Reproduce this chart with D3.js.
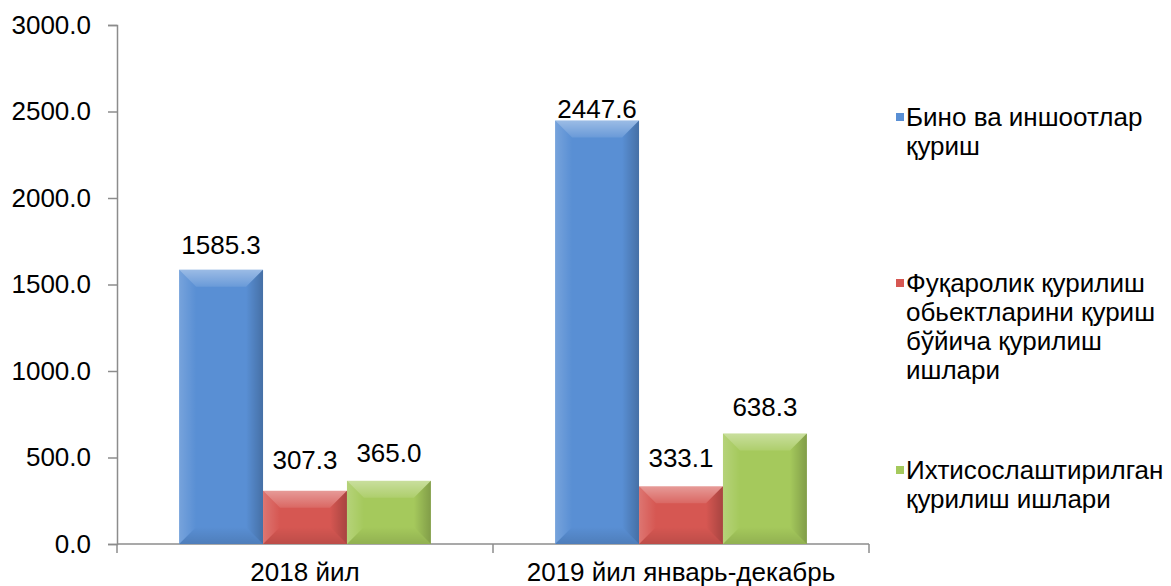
<!DOCTYPE html>
<html>
<head>
<meta charset="utf-8">
<script src="https://cdn.jsdelivr.net/npm/d3@7"></script>
<style>
  body { margin: 0; background: #fff; }
  svg { display: block; font-family: "Liberation Sans", Arial, sans-serif; }
</style>
</head>
<body>
<div id="wrapper"></div>
<script>
const width = 1171
const height = 586

const categories = ["2018 йил", "2019 йил январь-декабрь"]
const series = ["bino", "fuqarolik", "ixtisos"]
const seriesLines = [
    ["Бино ва иншоотлар", "қуриш"],
    ["Фуқаролик қурилиш", "обьектларини қуриш", "бўйича қурилиш", "ишлари"],
    ["Ихтисослаштирилган", "қурилиш ишлари"]
]
const values2018 = [1585.3, 307.3, 365.0]
const values2019 = [2447.6, 333.1, 638.3]
const yTicks = [0, 500, 1000, 1500, 2000, 2500, 3000]

const rows = categories.map((c, i) => ({ cat: c, vals: [values2018, values2019][i] }))

const colors = ["#598fd4", "#d65752", "#a5c95c"]
// label lift above bar top (px), per category / series
const labelLift = [[16, 22, 19], [3, 19, 18]]

const x0 = d3.scaleBand(categories, [117, 869]).padding(0)
const x1 = d3.scaleBand(series, [0, x0.bandwidth()]).paddingInner(0).paddingOuter(0.74)
const y = d3.scaleLinear([0, 3000], [544, 25])

const svg = d3.select("#wrapper").append("svg")
    .attr("width", width)
    .attr("height", height)

const defs = svg.append("defs")
const gTop = defs.append("linearGradient").attr("id", "gTop").attr("x1", 0).attr("y1", 0).attr("x2", 0).attr("y2", 1)
gTop.append("stop").attr("offset", 0).attr("stop-color", "#fff").attr("stop-opacity", 0.4)
gTop.append("stop").attr("offset", 1).attr("stop-color", "#fff").attr("stop-opacity", 0.1)
const gBot = defs.append("linearGradient").attr("id", "gBot").attr("x1", 0).attr("y1", 0).attr("x2", 0).attr("y2", 1)
gBot.append("stop").attr("offset", 0).attr("stop-color", "#000").attr("stop-opacity", 0.0)
gBot.append("stop").attr("offset", 1).attr("stop-color", "#000").attr("stop-opacity", 0.12)
const gLeft = defs.append("linearGradient").attr("id", "gLeft").attr("x1", 0).attr("y1", 0).attr("x2", 1).attr("y2", 0)
gLeft.append("stop").attr("offset", 0).attr("stop-color", "#fff").attr("stop-opacity", 0.18)
gLeft.append("stop").attr("offset", 1).attr("stop-color", "#fff").attr("stop-opacity", 0.0)
const gRight = defs.append("linearGradient").attr("id", "gRight").attr("x1", 0).attr("y1", 0).attr("x2", 1).attr("y2", 0)
gRight.append("stop").attr("offset", 0).attr("stop-color", "#000").attr("stop-opacity", 0.0)
gRight.append("stop").attr("offset", 1).attr("stop-color", "#000").attr("stop-opacity", 0.22)

// y axis
const yAxis = svg.append("g")
    .attr("transform", "translate(117,0)")
    .call(d3.axisLeft(y).tickValues(yTicks).tickFormat(d3.format(".1f")).tickSize(9).tickPadding(17))
yAxis.select(".domain").attr("stroke", "#8c8c8c").attr("stroke-width", 1.5)
yAxis.selectAll(".tick line").attr("stroke", "#8c8c8c").attr("stroke-width", 1.5)
yAxis.selectAll(".tick text").attr("fill", "#000").style("font-size", "26px")

// x axis (ticks on band boundaries)
const xg = svg.append("g")
xg.append("line")
    .attr("x1", x0.range()[0]).attr("x2", x0.range()[1])
    .attr("y1", y(0)).attr("y2", y(0))
    .attr("stroke", "#8c8c8c").attr("stroke-width", 1.5)
const bounds = categories.map(c => x0(c)).concat([x0.range()[1]])
xg.selectAll("line.tk").data(bounds).join("line")
    .attr("class", "tk")
    .attr("x1", d => d).attr("x2", d => d)
    .attr("y1", y(0)).attr("y2", y(0) + 9)
    .attr("stroke", "#8c8c8c").attr("stroke-width", 1.5)
xg.selectAll("text").data(categories).join("text")
    .attr("x", d => x0(d) + x0.bandwidth() / 2)
    .attr("y", y(0) + 37)
    .attr("text-anchor", "middle")
    .style("font-size", "26px")
    .text(d => d)

// bars with bevel
const groups = svg.append("g").selectAll("g")
    .data(rows)
    .join("g")
    .attr("transform", d => `translate(${x0(d.cat)},0)`)

const bars = groups.selectAll("g")
    .data((d, ci) => d.vals.map((v, i) => ({ key: series[i], i, ci, v })))
    .join("g")

bars.each(function (d) {
    const g = d3.select(this)
    const bx = x1(d.key), bw = x1.bandwidth()
    const top = y(d.v), bot = y(0), h = bot - top
    const dd = Math.min(17, h / 2, bw / 2)
    g.append("rect").attr("x", bx).attr("y", top).attr("width", bw).attr("height", h).attr("fill", colors[d.i])
    g.append("path")
        .attr("d", `M${bx},${top}L${bx + bw},${top}L${bx + bw - dd},${top + dd}L${bx + dd},${top + dd}Z`)
        .attr("fill", "url(#gTop)")
    g.append("path")
        .attr("d", `M${bx},${bot}L${bx + bw},${bot}L${bx + bw - dd},${bot - dd}L${bx + dd},${bot - dd}Z`)
        .attr("fill", "url(#gBot)")
    g.append("path")
        .attr("d", `M${bx},${top}L${bx + dd},${top + dd}L${bx + dd},${bot - dd}L${bx},${bot}Z`)
        .attr("fill", "url(#gLeft)")
    g.append("path")
        .attr("d", `M${bx + bw},${top}L${bx + bw - dd},${top + dd}L${bx + bw - dd},${bot - dd}L${bx + bw},${bot}Z`)
        .attr("fill", "url(#gRight)")
    g.append("text")
        .attr("x", bx + bw / 2)
        .attr("y", top - labelLift[d.ci][d.i])
        .attr("text-anchor", "middle")
        .style("font-size", "26px")
        .text(d3.format(".1f")(d.v))
})

// legend
const legendY = [117, 283, 470]
const lineH = 29
const legend = svg.append("g").selectAll("g")
    .data(seriesLines)
    .join("g")
    .attr("transform", (d, i) => `translate(896,${legendY[i]})`)

legend.append("rect")
    .attr("x", 0).attr("y", -4).attr("width", 8).attr("height", 8)
    .attr("fill", (d, i) => colors[i])

legend.append("text")
    .style("font-size", "26px")
    .selectAll("tspan")
    .data(d => d)
    .join("tspan")
    .attr("x", 10)
    .attr("y", (d, j) => j * lineH)
    .attr("dy", "0.35em")
    .text(d => d)
</script>
</body>
</html>
